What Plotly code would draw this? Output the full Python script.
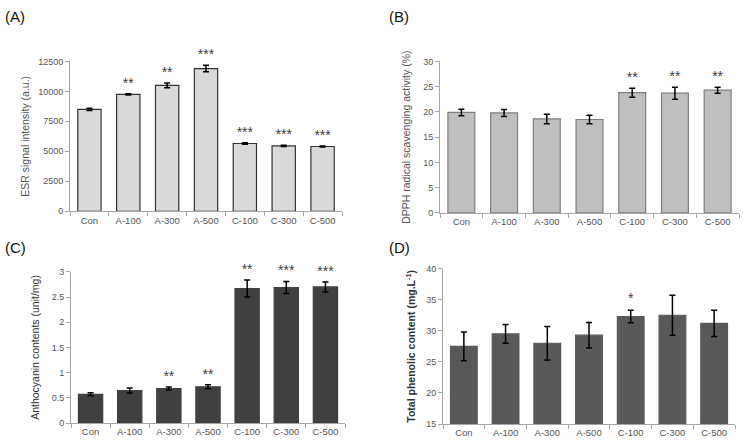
import plotly.graph_objects as go

categories = ["Con", "A-100", "A-300", "A-500", "C-100", "C-300", "C-500"]

esr_values = [8500, 9750, 10500, 11900, 5650, 5450, 5400]
esr_errors = [100, 60, 200, 270, 60, 50, 50]
esr_stars = ["", "**", "**", "***", "***", "***", "***"]

dpph_values = [19.9, 19.8, 18.6, 18.5, 23.8, 23.7, 24.3]
dpph_errors = [0.65, 0.7, 0.95, 0.85, 0.9, 1.2, 0.6]
dpph_stars = ["", "", "", "", "**", "**", "**"]

antho_values = [0.57, 0.645, 0.685, 0.72, 2.67, 2.69, 2.70]
antho_errors = [0.03, 0.05, 0.03, 0.04, 0.17, 0.12, 0.10]
antho_stars = ["", "", "**", "**", "**", "***", "***"]

phenol_values = [27.5, 29.5, 28.0, 29.3, 32.3, 32.5, 31.2]
phenol_errors = [2.3, 1.5, 2.7, 2.05, 1.0, 3.2, 2.1]
phenol_stars = ["", "", "", "", "*", "", ""]

W, H = 743, 444
def fx(px): return px / W
def fy(py): return 1 - py / H

panels = [
    dict(key="", vals=esr_values, errs=esr_errors, stars=esr_stars, color="#d9d9d9", line="#333333",
         xd=[fx(70), fx(342)], yd=[fy(211), fy(57.7)], yr=[0, 12500], dt=2500, fmt="d",
         title="ESR signal intensity (a.u.)", label="(A)", lx=3, ly=12, star_off=200, width=0.6,
         tfont=dict(size=10.5, color="#555555", family="Arial"), standoff=6),
    dict(key="2", vals=dpph_values, errs=dpph_errors, stars=dpph_stars, color="#bfbfbf", line="#7f7f7f",
         xd=[fx(440), fx(739)], yd=[fy(212.7), fy(57.7)], yr=[0, 30], dt=5, fmt="",
         title="DPPH radical scavenging activity (%)", label="(B)", lx=387, ly=12, star_off=0.5, width=0.63,
         tfont=dict(size=10.5, color="#555555", family="Arial"), standoff=10),
    dict(key="3", vals=antho_values, errs=antho_errors, stars=antho_stars, color="#404040", line="#404040",
         xd=[fx(71), fx(345)], yd=[fy(427.7), fy(273)], yr=[0, 3], dt=0.5, fmt="",
         title="Anthocyanin contents (unit/mg)", label="(C)", lx=3, ly=248, star_off=0.05, width=0.62,
         tfont=dict(size=10.5, color="#333333", family="Arial"), standoff=10),
    dict(key="4", vals=phenol_values, errs=phenol_errors, stars=phenol_stars, color="#595959", line="#595959",
         xd=[fx(443), fx(735)], yd=[fy(428.7), fy(269.7)], yr=[15, 40], dt=5, fmt="",
         title="<b>Total phenolic content (mg.L<sup>-1</sup>)</b>", label="(D)", lx=387, ly=248, star_off=0.6, width=0.64,
         tfont=dict(size=10.5, color="#333333", family="Arial"), standoff=8),
]

fig = go.Figure()
layout = dict(width=W, height=H, margin=dict(l=0, r=0, t=0, b=0),
              paper_bgcolor="white", plot_bgcolor="white", showlegend=False,
              font=dict(family="Arial", color="#555555"), annotations=[])

for p in panels:
    k = p["key"]
    xa, ya = "x" + k, "y" + k
    base = p["yr"][0]
    fig.add_trace(go.Bar(
        x=categories, y=[v - base for v in p["vals"]], base=base, xaxis=xa, yaxis=ya, width=p["width"],
        marker=dict(color=p["color"], line=dict(color=p["line"], width=1.2)),
        error_y=dict(type="data", array=p["errs"], color="black", thickness=1.5, width=3),
    ))
    star_y = [v + e + p["star_off"] for v, e in zip(p["vals"], p["errs"])]
    fig.add_trace(go.Scatter(
        x=categories, y=star_y, text=p["stars"], mode="text", xaxis=xa, yaxis=ya,
        textposition="top center", cliponaxis=False,
        textfont=dict(size=14, color="#404040", family="Arial"),
    ))
    layout["xaxis" + k] = dict(domain=p["xd"], anchor=ya, type="category",
                               showline=True, linecolor="#a6a6a6", linewidth=1,
                               ticks="outside", tickson="boundaries", ticklen=4, tickcolor="#a6a6a6",
                               tickfont=dict(size=9.5, color="#555555", family="Arial"),
                               showgrid=False, zeroline=False, fixedrange=True)
    layout["yaxis" + k] = dict(domain=p["yd"], anchor=xa, range=p["yr"], dtick=p["dt"], tick0=base,
                               tickformat=p["fmt"],
                               showline=True, linecolor="#a6a6a6", linewidth=1,
                               ticks="outside", ticklen=4, tickcolor="#a6a6a6",
                               tickfont=dict(size=9, color="#555555", family="Arial"),
                               showgrid=False, zeroline=False, fixedrange=True,
                               title=dict(text=p["title"], font=p["tfont"], standoff=p["standoff"]))
    layout["annotations"].append(dict(text=p["label"], x=fx(p["lx"]), y=fy(p["ly"]), xref="paper", yref="paper",
                                      xanchor="left", yanchor="middle", showarrow=False,
                                      font=dict(size=15, color="#111111", family="Arial")))

fig.update_layout(**layout)
fig.write_html("out.html", config={"displayModeBar": False},
               post_script="document.body.style.margin='0';document.body.style.overflow='hidden';")
